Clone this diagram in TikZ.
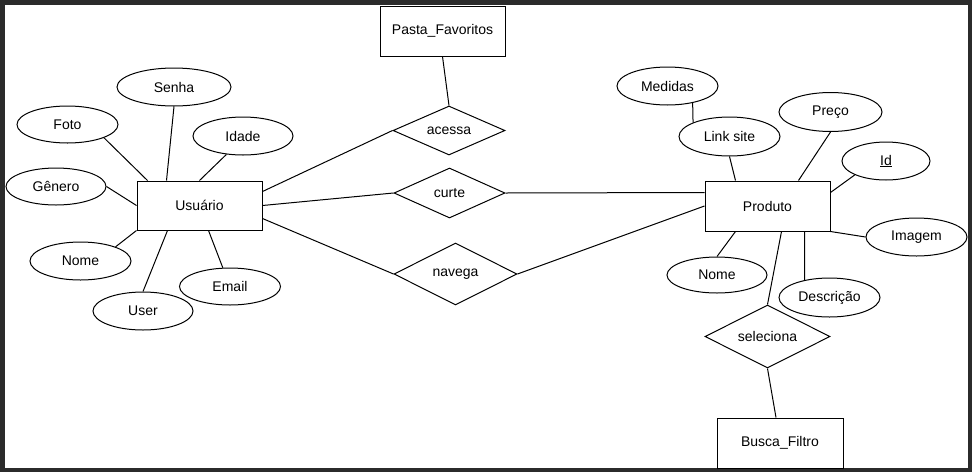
\documentclass[tikz,border=0pt]{standalone}
\usepackage{fontspec}
\setmainfont{Liberation Sans}
\usetikzlibrary{shapes.geometric}

\definecolor{framegray}{HTML}{2B2B2B}

\begin{document}
\begin{tikzpicture}[x=1pt,y=-1pt,
        every node/.style={font=\fontsize{14}{16}\selectfont, line width=1pt},
        entity/.style={draw, rectangle, minimum width=125pt, minimum height=50pt, inner sep=0pt},
        attrib/.style={draw, ellipse, minimum width=101pt, minimum height=38pt, inner sep=0pt},
        relation/.style={draw, diamond, aspect=2, inner sep=0pt},
        link/.style={line width=1pt}]

        % frame
        \fill[framegray] (0,0) rectangle (972,472);
        \fill[white] (4.5,4.5) rectangle (967.5,468);

        % entities
        \node[entity, minimum height=49pt] (usu) at (199.5,205.5) {Usuário};
        \node[entity] (prod) at (767.5,206) {Produto};
        \node[entity] (pasta) at (442.5,31) {Pasta\_Favoritos};
        \node[entity, minimum width=126pt] (busca) at (780,443) {Busca\_Filtro};

        % relations
        \node[relation, minimum width=112pt, minimum height=49pt] (acessa) at (449,130.5) {acessa};
        \node[relation, minimum width=111pt, minimum height=50pt] (curte) at (449.5,193) {curte};
        \node[relation, minimum width=123pt, minimum height=62pt] (navega) at (455.5,274) {navega};
        \node[relation, minimum width=125pt, minimum height=63pt] (sel) at (767.5,336.5) {seleciona};

        % attributes of Usuário
        \node[attrib, minimum width=114pt] (senha) at (174,87) {Senha};
        \node[attrib, minimum height=37pt] (foto) at (67.5,124.5) {Foto};
        \node[attrib, minimum width=100pt] (idade) at (243,136) {Idade};
        \node[attrib, minimum width=100pt, minimum height=37pt] (genero) at (56,186.5) {Gênero};
        \node[attrib] (nomeU) at (80.5,261) {Nome};
        \node[attrib, minimum width=100pt] (user) at (143,311) {User};
        \node[attrib, minimum height=37pt] (email) at (230,286.5) {Email};

        % attributes of Produto
        \node[attrib] (medidas) at (667.5,86) {Medidas};
        \node[attrib, minimum height=39pt] (linksite) at (729.5,136.5) {Link site};
        \node[attrib, minimum width=103pt, minimum height=39pt] (preco) at (830.5,112) {Preço};
        \node[attrib, minimum width=88pt] (id) at (886,161) {\underline{Id}};
        \node[attrib] (imagem) at (916.5,237) {Imagem};
        \node[attrib, minimum width=100pt, minimum height=36pt] (nomeP) at (717,275) {Nome};
        \node[attrib, minimum height=39pt] (desc) at (829.5,297.5) {Descrição};

        % Usuário links
        \draw[link] (senha.south) -- ([xshift=30pt]usu.north west);
        \draw[link] (foto.-20) -- ([xshift=11pt]usu.north west);
        \draw[link] (idade.-132) -- ([xshift=63pt]usu.north west);
        \draw[link] (genero.east) -- (usu.west);
        \draw[link] (nomeU.22) -- (usu.south west);
        \draw[link] (user.north) -- ([xshift=31pt]usu.south west);
        \draw[link] (email.111) -- ([xshift=72pt]usu.south west);

        \draw[link] ([yshift=-11pt]usu.north east) -- (acessa.west);
        \draw[link] (usu.east) -- (curte.west);
        \draw[link] ([yshift=12pt]usu.south east) -- (navega.west);
        \draw[link] (pasta.south) -- (acessa.north);

        % Produto links
        \draw[link] (curte.east) -- ([yshift=-12pt]prod.north west);
        \draw[link] (navega.east) -- (prod.west);
        \draw[link] (medidas.-34) -- (linksite.159);
        \draw[link] (linksite.south) -- ([xshift=31pt]prod.north west);
        \draw[link] (preco.south) -- ([xshift=94pt]prod.north west);
        \draw[link] (id.-156) -- ([yshift=-12pt]prod.north east);
        \draw[link] (imagem.west) -- (prod.south east);
        \draw[link] (nomeP.north) -- ([xshift=31pt]prod.south west);
        \draw[link] (desc.145) -- ([xshift=100pt]prod.south west);
        \draw[link] (sel.north) -- ([xshift=77pt]prod.south west);
        \draw[link] (sel.south) -- ([xshift=-4pt]busca.north);

\end{tikzpicture}
\end{document}
